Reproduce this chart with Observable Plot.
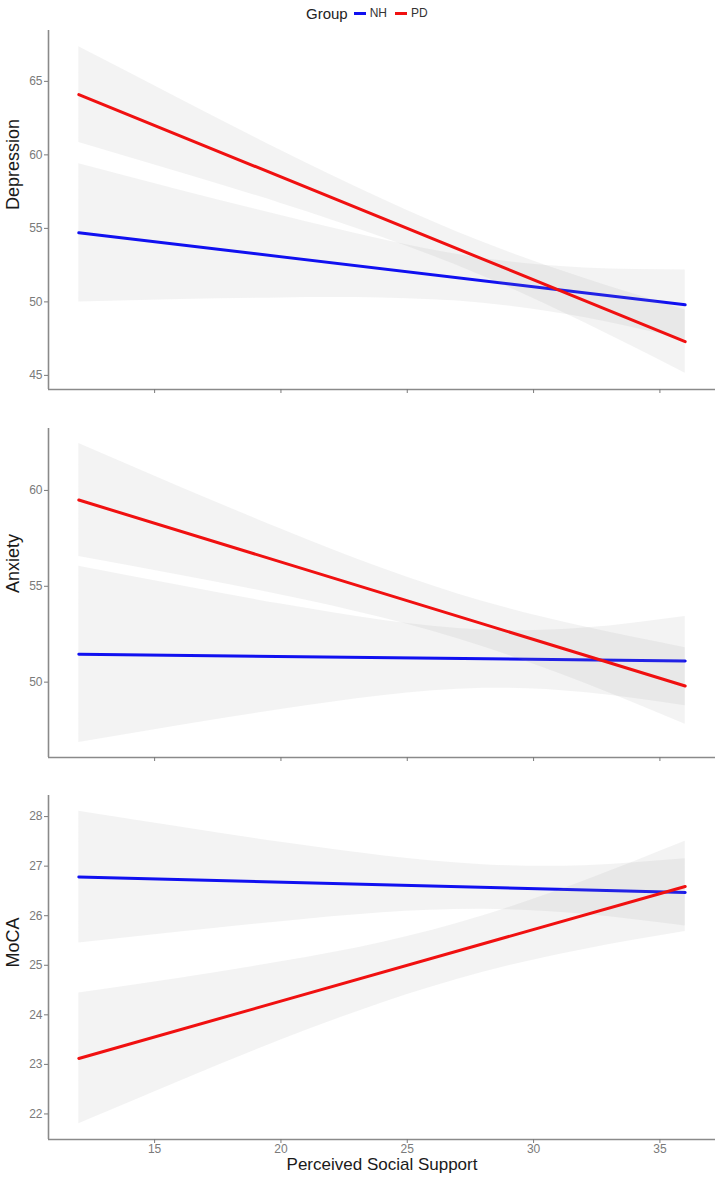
<!DOCTYPE html>
<html>
<head>
<meta charset="utf-8">
<script src="https://cdn.jsdelivr.net/npm/d3@7"></script>
<script src="https://cdn.jsdelivr.net/npm/@observablehq/plot@0.6"></script>
<style>
  body { margin: 0; background: #fff; font-family: "Liberation Sans", Arial, sans-serif; }
  #wrap { position: relative; width: 720px; height: 1181px; }
  #legend { position: absolute; left: 306px; top: 1px; height: 24px; display: flex; align-items: center; gap: 4px; font-size: 12px; color: #333; }
  #legend .title { font-size: 15px; color: #222; margin-right: 2px; }
  #legend .sw { display: inline-block; width: 12px; height: 3px; }
  #legend .lab { margin-right: 4px; }
  svg { display: block; }
</style>
</head>
<body>
<div id="wrap">
  <div id="legend"></div>
  <div id="charts"></div>
</div>
<script>
// ---- data ----
const groups = ["NH", "PD"];
const groupColors = ["#1010f0", "#f01010"];
const legendTitle = "Group";
const xTitle = "Perceived Social Support";
const xTicks = [15, 20, 25, 30, 35];

const lineX = [12, 36];               // fitted-line endpoints (x)
const bandX = [12, 16, 20, 24, 28, 32, 36]; // confidence band sample points (x)

// Depression
const depLabel = "Depression";
const depTicks = [45, 50, 55, 60, 65];
const depNHline = [54.7, 49.8];
const depPDline = [64.1, 47.3];
const depNHlo = [50.0, 50.16, 50.27, 50.26, 49.91, 48.93, 47.43];
const depNHhi = [59.4, 57.6, 55.87, 54.24, 52.95, 52.31, 52.17];
const depPDlo = [60.85, 58.8, 56.7, 54.4, 51.75, 48.6, 45.15];
const depPDhi = [67.35, 63.8, 60.3, 57.0, 54.05, 51.6, 49.45];

// Anxiety
const anxLabel = "Anxiety";
const anxTicks = [50, 55, 60];
const anxNHline = [51.45, 51.1];
const anxPDline = [59.5, 49.8];
const anxNHlo = [46.85, 47.74, 48.57, 49.29, 49.68, 49.46, 48.77];
const anxNHhi = [56.05, 55.04, 54.07, 53.23, 52.72, 52.82, 53.43];
const anxPDlo = [56.55, 55.58, 54.55, 53.36, 51.85, 49.95, 47.8];
const anxPDhi = [62.45, 60.18, 57.99, 55.94, 54.21, 52.89, 51.8];

// MoCA
const mocaLabel = "MoCA";
const mocaTicks = [22, 23, 24, 25, 26, 27, 28];
const mocaNHline = [26.78, 26.47];
const mocaPDline = [23.12, 26.59];
const mocaNHlo = [25.45, 25.67, 25.88, 26.06, 26.13, 26.03, 25.79];
const mocaNHhi = [28.11, 27.79, 27.48, 27.21, 27.03, 27.01, 27.15];
const mocaPDlo = [21.80, 22.66, 23.49, 24.24, 24.86, 25.32, 25.68];
const mocaPDhi = [24.44, 24.74, 25.07, 25.46, 26.0, 26.70, 27.5];

// ---- helpers ----
function expand(lo, hi, f = 0.05) { const r = hi - lo; return [lo - r * f, hi + r * f]; }
const xDomain = expand(d3.min(bandX.concat(lineX)), d3.max(bandX.concat(lineX)));
const FONT = "'Liberation Sans', Arial, sans-serif";

function panel(cfg) {
  const all = cfg.nhLo.concat(cfg.nhHi, cfg.pdLo, cfg.pdHi, cfg.nhLine, cfg.pdLine);
  const yDomain = expand(d3.min(all), d3.max(all));
  const bandNH = bandX.map((x, i) => ({x, lo: cfg.nhLo[i], hi: cfg.nhHi[i]}));
  const bandPD = bandX.map((x, i) => ({x, lo: cfg.pdLo[i], hi: cfg.pdHi[i]}));
  const lnNH = lineX.map((x, i) => ({x, y: cfg.nhLine[i]}));
  const lnPD = lineX.map((x, i) => ({x, y: cfg.pdLine[i]}));
  const bandStyle = {x: "x", y1: "lo", y2: "hi", fill: "#999", fillOpacity: 0.12, curve: "natural"};
  return Plot.plot({
    width: 720,
    height: cfg.height,
    marginLeft: 48,
    marginRight: 5,
    marginTop: cfg.marginTop,
    marginBottom: cfg.marginBottom,
    style: {fontFamily: FONT, background: "#fff"},
    x: {domain: xDomain},
    y: {domain: yDomain},
    marks: [
      Plot.areaY(bandNH, bandStyle),
      Plot.line(lnNH, {x: "x", y: "y", stroke: groupColors[0], strokeWidth: 3}),
      Plot.areaY(bandPD, bandStyle),
      Plot.line(lnPD, {x: "x", y: "y", stroke: groupColors[1], strokeWidth: 3}),
      Plot.ruleX([xDomain[0]], {stroke: "#8a8a8a", strokeWidth: 1.6}),
      Plot.ruleY([yDomain[0]], {stroke: "#8a8a8a", strokeWidth: 1.6}),
      Plot.axisY({ticks: cfg.yTicks, tickSize: 4, tickPadding: 2, fontSize: 12, color: "#7a7a7a",
                  tickFormat: d3.format("d"), label: null}),
      Plot.axisX({ticks: xTicks, tickSize: 4, tickPadding: 1, fontSize: 12,
                  tickFormat: cfg.showX ? d3.format("d") : (() => ""), color: "#7a7a7a", label: null}),
      Plot.text([cfg.label], {frameAnchor: "left", dx: -35, rotate: -90, fontSize: 18, fill: "#1a1a1a", text: d => d}),
      cfg.showX ? Plot.text([xTitle], {frameAnchor: "bottom", dy: 18, lineAnchor: "top", fontSize: 17, fill: "#1a1a1a", text: d => d}) : null
    ]
  });
}

const charts = document.getElementById("charts");
charts.style.position = "absolute";
charts.style.top = "24px";
charts.style.left = "0px";

charts.appendChild(panel({label: depLabel, yTicks: depTicks, nhLine: depNHline, pdLine: depPDline,
  nhLo: depNHlo, nhHi: depNHhi, pdLo: depPDlo, pdHi: depPDhi,
  height: 386, marginTop: 6, marginBottom: 21, showX: false}));
charts.appendChild(panel({label: anxLabel, yTicks: anxTicks, nhLine: anxNHline, pdLine: anxPDline,
  nhLo: anxNHlo, nhHi: anxNHhi, pdLo: anxPDlo, pdHi: anxPDhi,
  height: 370, marginTop: 18, marginBottom: 23, showX: false}));
charts.appendChild(panel({label: mocaLabel, yTicks: mocaTicks, nhLine: mocaNHline, pdLine: mocaPDline,
  nhLo: mocaNHlo, nhHi: mocaNHhi, pdLo: mocaPDlo, pdHi: mocaPDhi,
  height: 401, marginTop: 15, marginBottom: 42, showX: true}));

// legend
const lg = document.getElementById("legend");
const t = document.createElement("span"); t.className = "title"; t.textContent = legendTitle; lg.appendChild(t);
groups.forEach((g, i) => {
  const sw = document.createElement("span"); sw.className = "sw"; sw.style.background = groupColors[i]; lg.appendChild(sw);
  const lb = document.createElement("span"); lb.className = "lab"; lb.textContent = g; lg.appendChild(lb);
});
</script>
</body>
</html>
